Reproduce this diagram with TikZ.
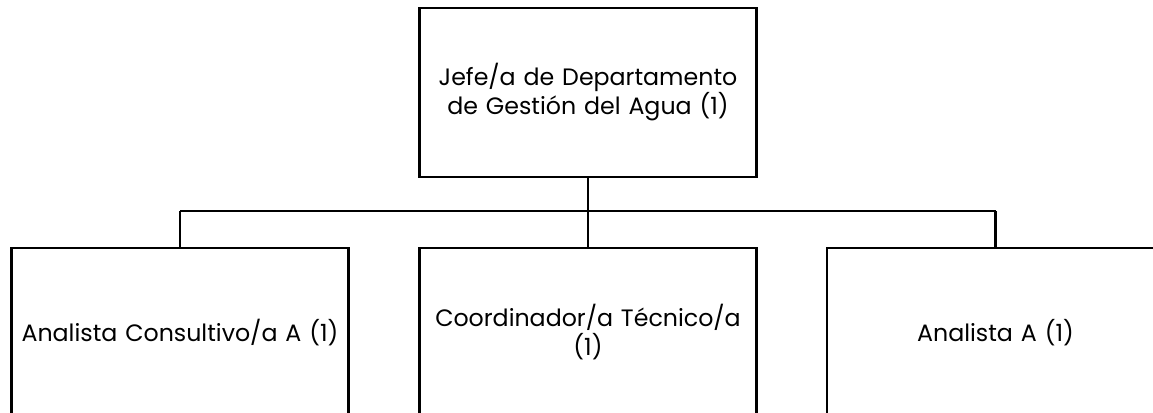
\documentclass[tikz,border=0pt]{standalone}
\usepackage{fontspec}
\setmainfont{Poppins}
\usepackage{tikz}

\tikzset{
  caja/.style={draw=black, line width=2.2pt, minimum width=337pt, minimum height=169pt,
    text width=330pt, align=center, inner sep=0pt, font=\fontsize{23.7}{29}\selectfont},
  linea/.style={draw=black, line width=2.2pt}
}

\begin{document}
\begin{tikzpicture}[x=1pt,y=-1pt]
\clip (0,0) rectangle (1153,412);
\useasboundingbox (0,0) rectangle (1153,412);

\node[caja] (jefe) at (588,92.5) {Jefe/a de Departamento\\de Gestión del Agua (1)};
\node[caja] (consultivo) at (180,332.5) {Analista Consultivo/a A (1)};
\node[caja] (coordinador) at (588,332.5) {Coordinador/a Técnico/a\\(1)};
\node[caja] (analista) at (995.5,332.5) {Analista A (1)};

% pomozne tocke
\coordinate (r) at (588,211);
\coordinate (rl) at (180,211);
\coordinate (rd) at (995.5,211);

\draw[linea] (jefe.south)--(r);
\draw[linea] (rl)--(rd);
\draw[linea] (rl)--(consultivo.north);
\draw[linea] (r)--(coordinador.north);
\draw[linea] (rd)--(analista.north);
\end{tikzpicture}
\end{document}
